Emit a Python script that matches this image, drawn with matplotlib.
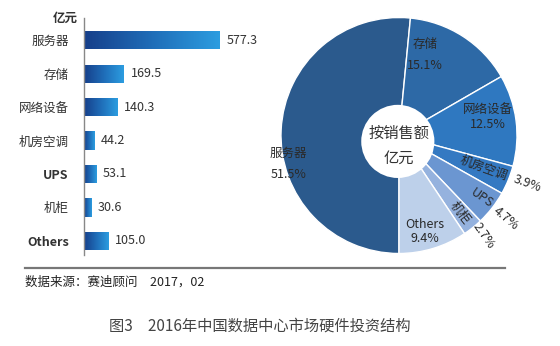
import numpy as np
import matplotlib
matplotlib.use("Agg")
import matplotlib.pyplot as plt
from matplotlib.colors import LinearSegmentedColormap
from matplotlib.patches import Circle

plt.rcParams['font.family'] = ['Noto Sans CJK SC', 'DejaVu Sans']

# data
categories = ['服务器', '存储', '网络设备', '机房空调', 'UPS', '机柜', 'Others']
values = [577.3, 169.5, 140.3, 44.2, 53.1, 30.6, 105.0]
pie_labels = ['服务器', '存储', '网络设备', '机房空调', 'UPS', '机柜', 'Others']
pie_pcts = ['51.5%', '15.1%', '12.5%', '3.9%', '4.7%', '2.7%', '9.4%']
pie_colors = ['#2b5a8d', '#2d69a6', '#2f78c0', '#3479c2', '#6b96d1', '#95b2de', '#bdd0ea']

W, H = 560, 346
fig = plt.figure(figsize=(W / 100, H / 100), dpi=100)


def px_rect(x0, y0, x1, y1):
    return [x0 / W, 1 - y1 / H, (x1 - x0) / W, (y1 - y0) / H]


# ---- bar chart ----
ax = fig.add_axes(px_rect(84, 18, 234, 255))
ypos = np.arange(len(categories))
bar_h = 0.54
bars = ax.barh(ypos, values, height=bar_h, color='none', edgecolor='none')
cmap = LinearSegmentedColormap.from_list('bluegrad', ['#163f8a', '#1f6db8', '#2c9de0'])
grad = np.linspace(0, 1, 256).reshape(1, -1)
for b, v, y in zip(bars, values, ypos):
    im = ax.imshow(grad, cmap=cmap, aspect='auto',
                   extent=(0, v, y + bar_h / 2, y - bar_h / 2), zorder=2)
    im.set_clip_path(b)
    ax.text(v + 28, y, f'{v:.1f}', va='center', ha='left', fontsize=9, color='#333333')

ax.set_xlim(0, 577.3 * 150 / 136)
ax.set_ylim(6.42, -0.66)
ax.set_yticks(ypos)
ax.set_yticklabels(categories, fontsize=9, color='#333333')
for lbl in ax.get_yticklabels():
    if lbl.get_text() in ('UPS', 'Others'):
        lbl.set_fontweight('bold')
ax.tick_params(axis='y', length=0, pad=11)
ax.set_xticks([])
for s in ['top', 'right', 'bottom']:
    ax.spines[s].set_visible(False)
ax.spines['left'].set_color('#888888')
ax.spines['left'].set_linewidth(1.0)
ax.patch.set_alpha(0)
fig.text(65 / W, 1 - 18 / H, '亿元', fontsize=9, fontweight='bold', color='#333333',
         ha='center', va='center')

# ---- donut ----
pax = fig.add_axes(px_rect(281, 17.5, 517, 253.5))
pax.pie(values, colors=pie_colors, startangle=-90, counterclock=False, radius=1.0,
        wedgeprops=dict(edgecolor='white', linewidth=1.0))
pax.set_xlim(-1, 1)
pax.set_ylim(-1, 1)
pax.set_aspect('equal')
pax.axis('off')
pax.add_patch(Circle((-0.01, -0.05), 0.31, facecolor='white', edgecolor='none', zorder=5))
pax.text(0.0, 0.02, '按销售额', ha='center', va='center', fontsize=11, color='#333333', zorder=6)
pax.text(0.0, -0.19, '亿元', ha='center', va='center', fontsize=11, color='#333333', zorder=6)

# label positions (axes data units), rotation
lab_pos = [(-0.94, -0.15, 0), (0.22, 0.77, 0), (0.75, 0.22, 0), (0.72, -0.28, -20),
           (0.70, -0.53, -35), (0.52, -0.66, -52), (0.22, -0.75, 0)]
pct_pos = [(-0.94, -0.33, 0), (0.22, 0.59, 0), (0.75, 0.09, 0), (1.09, -0.41, -20),
           (0.91, -0.70, -40), (0.72, -0.85, -55), (0.22, -0.87, 0)]
for i in range(len(pie_labels)):
    x, y, r = lab_pos[i]
    pax.text(x, y, pie_labels[i], ha='center', va='center', fontsize=9,
             color='#2a2a2a', rotation=r, clip_on=False, zorder=7)
    x, y, r = pct_pos[i]
    pax.text(x, y, pie_pcts[i], ha='center', va='center', fontsize=9,
             color='#2a2a2a', rotation=r, clip_on=False, zorder=7)

# ---- footer ----
fig.add_artist(plt.Line2D([25 / W, 505 / W], [1 - 268 / H, 1 - 268 / H],
                          color='#777777', linewidth=1.6))
fig.text(25 / W, 1 - 282 / H, '数据来源：赛迪顾问　2017，02', fontsize=9,
         color='#222222', ha='left', va='center')
fig.text(260 / W, 1 - 326 / H, '图3　2016年中国数据中心市场硬件投资结构', fontsize=11,
         color='#444444', ha='center', va='center')

fig.savefig('out.png', dpi=100)
